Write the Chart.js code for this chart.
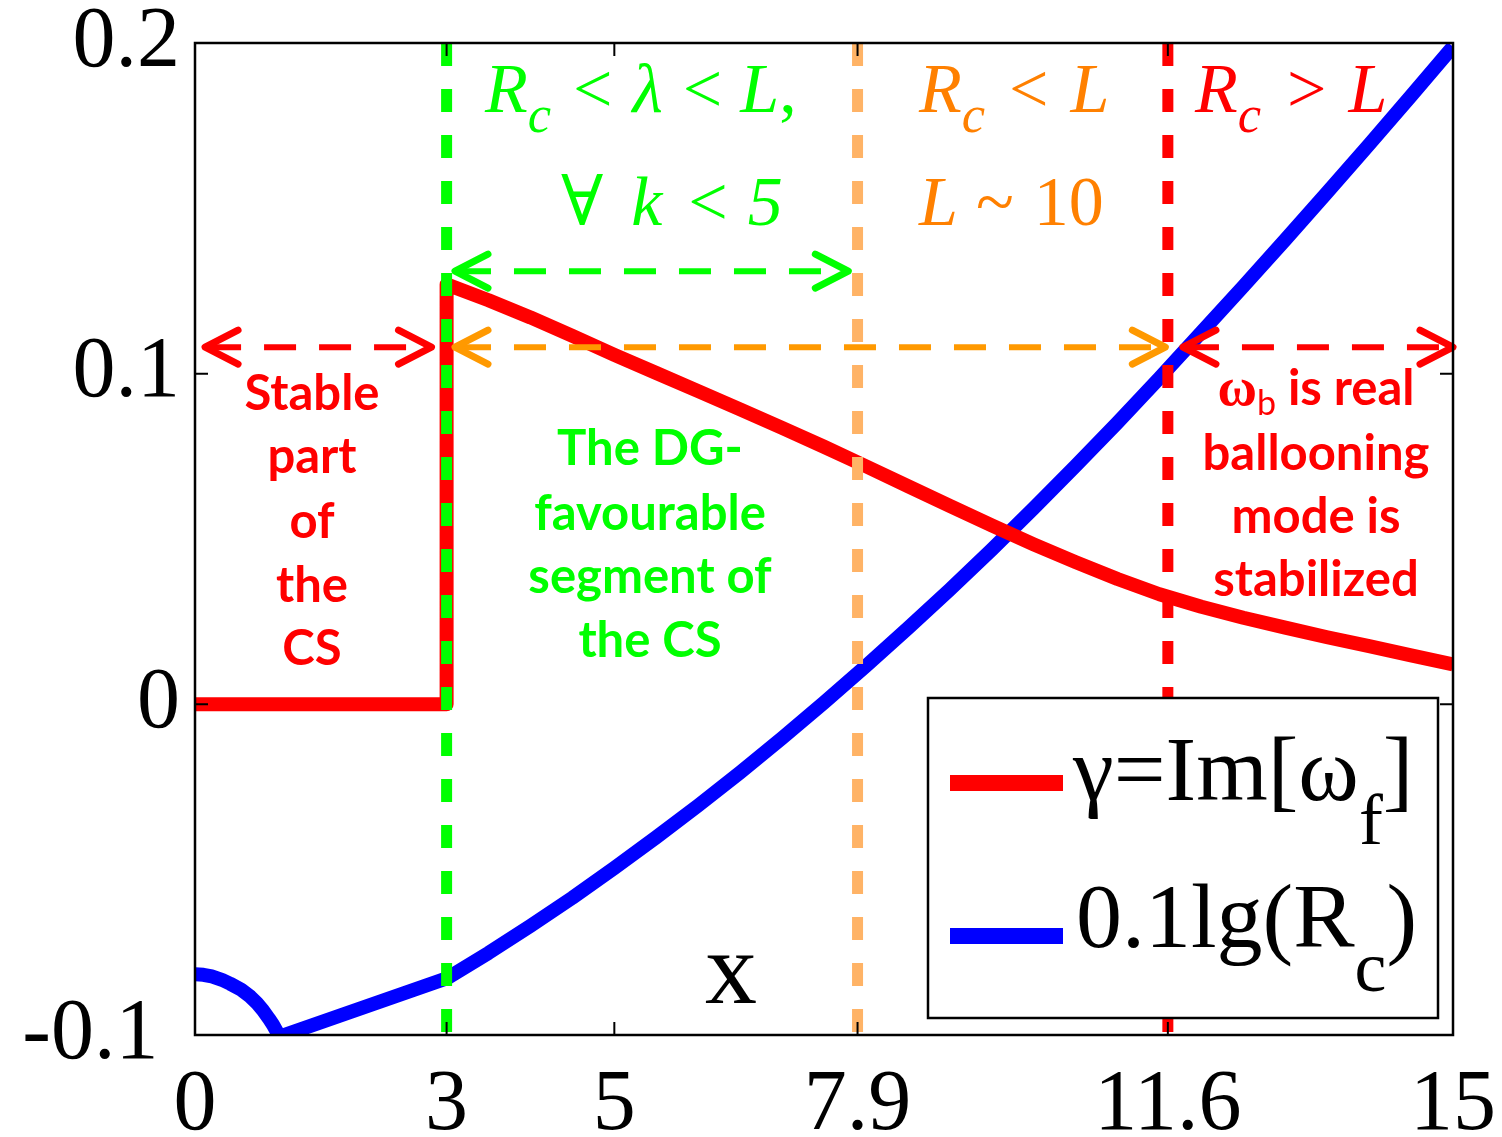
<!DOCTYPE html>
<html>
<head>
<meta charset="utf-8">
<script src="https://cdn.jsdelivr.net/npm/chart.js@4.4.1/dist/chart.umd.min.js"></script>
<style>
    html, body { margin: 0; padding: 0; background: #fff; }
    #wrap { width: 1502px; height: 1137px; }
</style>
</head>
<body>
<div id="wrap"><canvas id="chart" width="1502" height="1137"></canvas></div>
<script>
// --- DATA ---
const xTicks = [0, 3, 5, 7.9, 11.6, 15];
const yTicks = [-0.1, 0, 0.1, 0.2];

// gamma = Im[omega_f]
const gammaX = [0, 3, 3, 3.5, 4, 4.5, 5, 5.5, 6, 6.5, 7, 7.5, 8, 8.5, 9, 9.5, 10, 10.5, 11, 11.5, 12, 12.5, 13, 13.5, 14, 14.5, 15];
const gammaY = [0, 0, 0.1270, 0.1222, 0.1170, 0.1114, 0.1057, 0.1002, 0.0947, 0.0892, 0.0836, 0.0779, 0.0720, 0.0660,
    0.0600, 0.0541, 0.0484, 0.0430, 0.0379, 0.0333, 0.0295, 0.0262, 0.0232, 0.0203, 0.0176, 0.0148, 0.0121];

// 0.1 lg(Rc)
const rcX = [0, 0.1, 0.2, 0.32, 0.42, 0.55, 0.66, 0.74, 0.81, 0.88, 0.93, 0.97, 1.01, 3, 3.5, 4, 4.5, 5, 5.5, 6, 6.5, 7, 7.5, 8,
    8.5, 9, 9.5, 10, 10.5, 11, 11.5, 12, 12.5, 13, 13.5, 14, 14.5, 15];
const rcY = [-0.0816, -0.0818, -0.0823, -0.0833, -0.0845, -0.0863, -0.0884, -0.0904, -0.0925, -0.0950, -0.0969, -0.0987, -0.1005,
    -0.0829, -0.0752, -0.0670, -0.0585, -0.0495, -0.0402, -0.0306, -0.0206, -0.0102, 0.0005, 0.0116,
    0.0230, 0.0347, 0.0468, 0.0593, 0.0721, 0.0852, 0.0987, 0.1125, 0.1264, 0.1405, 0.1548, 0.1693, 0.1840, 0.1989];

// vertical region boundaries
const boundaryX = [3, 7.9, 11.6];
const boundaryColors = ['#00ff00', '#ffb366', '#ff0000'];

// double-headed dashed arrows (data coords)
const arrowFrom = [0.12, 3.1, 3.1, 11.78];
const arrowTo = [2.82, 7.79, 11.57, 15];
const arrowY = [0.108, 0.131, 0.108, 0.108];
const arrowColors = ['#ff0000', '#00ff00', '#ff9900', '#ff0000'];

const SERIF = '"Liberation Serif", "Times New Roman", "DejaVu Serif", serif';
const SANS = 'Lato, "Open Sans", "Noto Sans", sans-serif';

const toPoints = (xs, ys) => xs.map((x, i) => ({ x: x, y: ys[i] }));

// text made of pieces: {t, it, sub, gap}
function richText(ctx, x, y, parts, size, color, subScale, subDrop) {
    let cx = x;
    ctx.fillStyle = color;
    ctx.textAlign = 'left';
    ctx.textBaseline = 'alphabetic';
    parts.forEach(p => {
        const s = p.sub ? size * subScale : size;
        ctx.font = (p.it ? 'italic ' : '') + s + 'px ' + SERIF;
        ctx.fillText(p.t, cx, y + (p.sub ? size * subDrop : 0));
        cx += ctx.measureText(p.t).width + (p.gap || 0);
    });
}

function drawArrow(ctx, x0, x1, y, color) {
    ctx.save();
    ctx.strokeStyle = color;
    ctx.lineWidth = 6;
    ctx.setLineDash([32, 23]);
    ctx.lineCap = 'butt';
    ctx.beginPath();
    ctx.moveTo(x0 + 4, y);
    ctx.lineTo(x1 - 4, y);
    ctx.stroke();
    ctx.setLineDash([]);
    ctx.lineCap = 'round';
    ctx.lineJoin = 'round';
    ctx.lineWidth = 7;
    [[x0, 1], [x1, -1]].forEach(([tx, d]) => {
        ctx.beginPath();
        ctx.moveTo(tx + d * 33, y - 17);
        ctx.lineTo(tx, y);
        ctx.lineTo(tx + d * 33, y + 17);
        ctx.stroke();
    });
    ctx.restore();
}

function boldLines(ctx, cx, baselines, lines, color, size) {
    ctx.fillStyle = color;
    ctx.font = 'bold ' + size + 'px ' + SANS;
    ctx.textAlign = 'center';
    ctx.textBaseline = 'alphabetic';
    lines.forEach((l, i) => ctx.fillText(l, cx, baselines[i]));
}

const overlay = {
    id: 'overlay',
    afterDatasetsDraw(chart) {
        const ctx = chart.ctx;
        const a = chart.chartArea;
        const X = v => chart.scales.x.getPixelForValue(v);
        const Y = v => chart.scales.y.getPixelForValue(v);

        // vertical dashed boundaries
        ctx.save();
        ctx.lineWidth = 11;
        ctx.setLineDash([23, 23]);
        boundaryX.forEach((bx, i) => {
            ctx.strokeStyle = boundaryColors[i];
            ctx.beginPath();
            ctx.moveTo(X(bx), a.top);
            ctx.lineTo(X(bx), a.bottom);
            ctx.stroke();
        });
        ctx.restore();

        arrowFrom.forEach((x0, i) => drawArrow(ctx, X(x0), X(arrowTo[i]), Y(arrowY[i]), arrowColors[i]));

        // region headings
        ctx.save();
        const sz = 70;
        richText(ctx, 485, 112, [
            { t: 'R', it: true }, { t: 'c', it: true, sub: true, gap: 22 }, { t: '<', gap: 20 }, { t: 'λ', it: true, gap: 20 },
            { t: '<', gap: 18 }, { t: 'L', it: true }, { t: ',' }
        ], sz, '#00ff00', 0.75, 0.29);
        richText(ctx, 561, 225, [
            { t: '∀', gap: 28 }, { t: 'k', it: true, gap: 26 }, { t: '<', gap: 20 }, { t: '5', it: true }
        ], sz, '#00ff00', 0.75, 0.29);
        richText(ctx, 919, 112, [
            { t: 'R', it: true }, { t: 'c', it: true, sub: true, gap: 24 }, { t: '<', gap: 22 }, { t: 'L', it: true }
        ], sz, '#ff8000', 0.75, 0.29);
        richText(ctx, 919, 225, [
            { t: 'L', it: true, gap: 18 }, { t: '~', gap: 20 }, { t: '10' }
        ], sz, '#ff8000', 0.75, 0.29);
        richText(ctx, 1195, 112, [
            { t: 'R', it: true }, { t: 'c', it: true, sub: true, gap: 26 }, { t: '>', gap: 22 }, { t: 'L', it: true }
        ], sz, '#ff0000', 0.75, 0.29);

        // region descriptions
        boldLines(ctx, 312, [410, 473, 538, 602, 665], ['Stable', 'part', 'of', 'the', 'CS'], '#ff0000', 49);
        boldLines(ctx, 650, [465, 530, 593, 657], ['The DG-', 'favourable', 'segment of', 'the CS'], '#00ff00', 49);
        boldLines(ctx, 1316, [470, 533, 596], ['ballooning', 'mode is', 'stabilized'], '#ff0000', 49);
        // "ω_b is real"
        ctx.font = 'bold 49px ' + SANS;
        const rest = ' is real';
        const wRest = ctx.measureText(rest).width;
        ctx.font = 'bold 54px ' + SERIF;
        const wOm = ctx.measureText('ω').width;
        ctx.font = '34px ' + SANS;
        const wB = ctx.measureText('b').width;
        const sx = 1316 - (wOm + wB + wRest) / 2;
        ctx.textAlign = 'left';
        ctx.font = 'bold 54px ' + SERIF;
        ctx.fillText('ω', sx, 405);
        ctx.font = '34px ' + SANS;
        ctx.fillText('b', sx + wOm, 415);
        ctx.font = 'bold 49px ' + SANS;
        ctx.fillText(rest, sx + wOm + wB, 405);

        // x label
        ctx.fillStyle = '#000';
        ctx.font = '104px ' + SERIF;
        ctx.textAlign = 'center';
        ctx.fillText('x', 731, 1003);
        ctx.restore();

        // frame and inner ticks
        ctx.save();
        ctx.strokeStyle = '#000';
        ctx.lineWidth = 2.5;
        ctx.strokeRect(a.left, a.top, a.right - a.left, a.bottom - a.top);
        ctx.lineWidth = 2;
        ctx.beginPath();
        xTicks.forEach(v => {
            ctx.moveTo(X(v), a.bottom); ctx.lineTo(X(v), a.bottom - 13);
            ctx.moveTo(X(v), a.top); ctx.lineTo(X(v), a.top + 13);
        });
        yTicks.forEach(v => {
            ctx.moveTo(a.left, Y(v)); ctx.lineTo(a.left + 13, Y(v));
            ctx.moveTo(a.right, Y(v)); ctx.lineTo(a.right - 13, Y(v));
        });
        ctx.stroke();
        ctx.restore();

        // legend box
        ctx.save();
        ctx.fillStyle = '#fff';
        ctx.fillRect(928, 698, 510, 320);
        ctx.strokeStyle = '#000';
        ctx.lineWidth = 2.5;
        ctx.strokeRect(928, 698, 510, 320);
        ctx.lineWidth = 16;
        ctx.strokeStyle = chart.data.datasets[0].borderColor;
        ctx.beginPath(); ctx.moveTo(950, 783); ctx.lineTo(1063, 783); ctx.stroke();
        ctx.strokeStyle = chart.data.datasets[1].borderColor;
        ctx.beginPath(); ctx.moveTo(950, 936); ctx.lineTo(1063, 936); ctx.stroke();
        richText(ctx, 1073, 800, [
            { t: 'γ=Im[ω' }, { t: 'f', sub: true }, { t: ']' }
        ], 92, '#000', 0.78, 0.48);
        richText(ctx, 1076, 947, [
            { t: '0.1lg(R' }, { t: 'c', sub: true }, { t: ')' }
        ], 92, '#000', 0.78, 0.48);
        ctx.restore();
    }
};

const tickFont = { family: SERIF, size: 86 };

new Chart(document.getElementById('chart'), {
    type: 'line',
    data: {
        datasets: [
            {
                label: 'γ=Im[ω_f]',
                data: toPoints(gammaX, gammaY),
                borderColor: '#ff0000',
                borderWidth: 14,
                pointRadius: 0,
                tension: 0,
                borderJoinStyle: 'round',
                clip: 0
            },
            {
                label: '0.1lg(R_c)',
                data: toPoints(rcX, rcY),
                borderColor: '#0000ff',
                borderWidth: 14,
                pointRadius: 0,
                tension: 0,
                borderJoinStyle: 'round',
                clip: 0
            }
        ]
    },
    options: {
        responsive: false,
        animation: false,
        devicePixelRatio: 1,
        layout: { padding: { top: 43, right: 49, left: 0, bottom: 0 } },
        plugins: { legend: { display: false }, tooltip: { enabled: false } },
        scales: {
            x: {
                type: 'linear',
                min: 0,
                max: 15,
                grid: { display: false },
                border: { display: false },
                afterBuildTicks: s => { s.ticks = xTicks.map(v => ({ value: v })); },
                afterFit: s => { s.height = 102; s.paddingLeft = 0; s.paddingRight = 0; },
                ticks: { autoSkip: false, maxRotation: 0, padding: 12, color: '#000', font: tickFont, callback: v => String(v) }
            },
            y: {
                type: 'linear',
                min: -0.1,
                max: 0.2,
                grid: { display: false },
                border: { display: false },
                afterBuildTicks: s => { s.ticks = yTicks.map(v => ({ value: v })); },
                afterFit: s => { s.width = 195; s.paddingTop = 0; s.paddingBottom = 0; },
                // the bottom label sits a little left in the original
                ticks: { autoSkip: false, padding: 7, color: '#000', font: tickFont, callback: v => v === -0.1 ? '-0.1\u00a0' : String(v) }
            }
        }
    },
    plugins: [overlay]
});
</script>
</body>
</html>
